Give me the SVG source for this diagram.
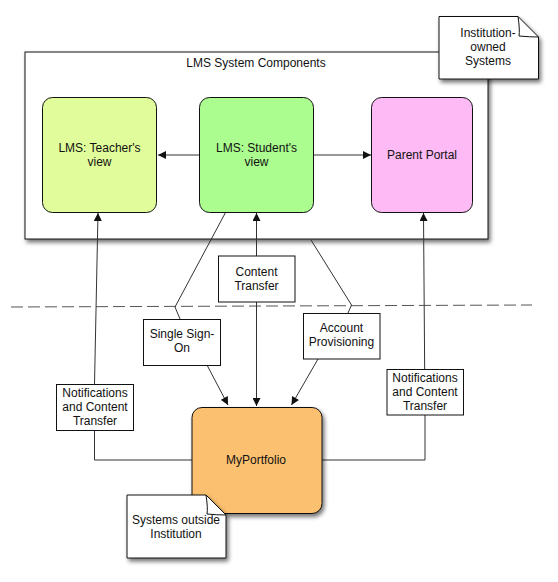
<svg xmlns="http://www.w3.org/2000/svg" width="558" height="582" viewBox="0 0 558 582">
<defs>
<filter id="sh" x="-10%" y="-10%" width="130%" height="130%">
<feDropShadow dx="2" dy="3" stdDeviation="2" flood-color="#000" flood-opacity="0.55"/>
</filter>
<marker id="ah" viewBox="0 0 10 10" refX="10" refY="5" markerWidth="9" markerHeight="8" markerUnits="userSpaceOnUse" orient="auto">
<path d="M0,0 L10,5 L0,10 Z" fill="#111"/>
</marker>
<style>
text{font-family:"Liberation Sans",Arial,sans-serif;font-size:12px;fill:#111;text-anchor:middle}
.box{stroke:#111;stroke-width:1}
.lbl{fill:#fff;stroke:#111;stroke-width:1}
.c{fill:none;stroke:#333;stroke-width:1}
</style>
</defs>
<rect width="558" height="582" fill="#fff"/>

<g id="container">
<rect x="25" y="52" width="463" height="187" fill="#fff" stroke="#111" stroke-width="1" filter="url(#sh)"/>
<text x="256" y="67">LMS System Components</text>
</g>

<g id="divider">
<line x1="11" y1="307" x2="532" y2="305" stroke="#555" stroke-width="1" stroke-dasharray="12,5"/>
</g>

<g id="connectors">
<line class="c" x1="200" y1="155" x2="158" y2="155" marker-end="url(#ah)"/>
<line class="c" x1="313" y1="155" x2="371" y2="155" marker-end="url(#ah)"/>
<path class="c" d="M192,460 H94.5 V384 L98,213" marker-end="url(#ah)"/>
<path class="c" d="M322,460 H425 V415 L423.5,213" marker-end="url(#ah)"/>
<polyline class="c" points="225.5,212.5 175,307 180,319"/>
<line class="c" x1="207" y1="365" x2="228" y2="405" marker-end="url(#ah)"/>
<line class="c" x1="256.5" y1="256" x2="256.5" y2="213" marker-end="url(#ah)"/>
<line class="c" x1="256.5" y1="302" x2="256.5" y2="406" marker-end="url(#ah)"/>
<polyline class="c" points="311,240 351.5,305 348,313"/>
<line class="c" x1="318" y1="359" x2="291.5" y2="405" marker-end="url(#ah)"/>
</g>

<g id="teacher">
<rect class="box" x="42.5" y="97.5" width="114" height="115" rx="10" fill="#e1fd9b"/>
<text x="99.5" y="152">LMS: Teacher's</text>
<text x="99.5" y="166">view</text>
</g>

<g id="student">
<rect class="box" x="199.5" y="97.5" width="114" height="115" rx="10" fill="#abfd8f"/>
<text x="256.5" y="152">LMS: Student's</text>
<text x="256.5" y="166">view</text>
</g>

<g id="parent">
<rect class="box" x="371.5" y="97.5" width="101" height="115" rx="10" fill="#fdbaf5"/>
<text x="422" y="159">Parent Portal</text>
</g>

<g id="note-institution">
<path d="M439,16.5 H518 L538.5,37 V79 H439 Z" fill="#fff" stroke="#111" stroke-width="1" filter="url(#sh)"/>
<path d="M518,16.5 Q520,30 519,36 Q530,37 538.5,37" fill="none" stroke="#111" stroke-width="1"/>
<text x="488" y="37">Institution-</text>
<text x="488" y="51">owned</text>
<text x="488" y="65">Systems</text>
</g>

<g id="lbl-content">
<rect class="lbl" x="218.5" y="256" width="76.5" height="46"/>
<text x="256.5" y="276">Content</text>
<text x="256.5" y="290">Transfer</text>
</g>

<g id="lbl-sso">
<rect class="lbl" x="143.5" y="319.5" width="77" height="46"/>
<text x="182" y="338">Single Sign-</text>
<text x="182" y="352">On</text>
</g>

<g id="lbl-account">
<rect class="lbl" x="303.5" y="313.5" width="76.5" height="45.5"/>
<text x="341.5" y="332">Account</text>
<text x="341.5" y="346">Provisioning</text>
</g>

<g id="lbl-notif-left">
<rect class="lbl" x="56.5" y="384.5" width="77" height="46"/>
<text x="95" y="397">Notifications</text>
<text x="95" y="411">and Content</text>
<text x="95" y="425">Transfer</text>
</g>

<g id="lbl-notif-right">
<rect class="lbl" x="387" y="369.5" width="76.5" height="45.5"/>
<text x="425" y="382">Notifications</text>
<text x="425" y="396">and Content</text>
<text x="425" y="410">Transfer</text>
</g>

<g id="myportfolio">
<rect class="box" x="192" y="407.5" width="130" height="106" rx="10" fill="#fbc170" filter="url(#sh)"/>
<text x="256" y="464">MyPortfolio</text>
</g>

<g id="note-outside">
<path d="M127,495 H206 L226,515 V558 H127 Z" fill="#fff" stroke="#111" stroke-width="1" filter="url(#sh)"/>
<path d="M206,495 Q208,508 207,514 Q217,515 226,515" fill="none" stroke="#111" stroke-width="1"/>
<text x="176" y="524">Systems outside</text>
<text x="176" y="538">Institution</text>
</g>
</svg>
